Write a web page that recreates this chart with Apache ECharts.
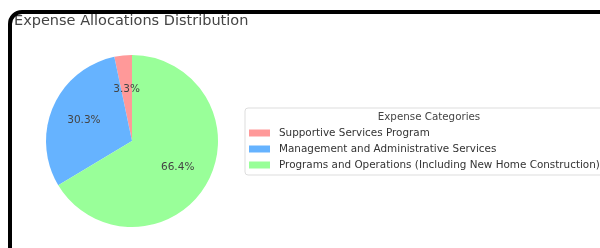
<!DOCTYPE html>
<html>
<head>
<meta charset="utf-8">
<script src="https://cdn.jsdelivr.net/npm/echarts@6/dist/echarts.min.js"></script>
<style>
html,body{margin:0;padding:0;background:#fff;}
#chart{position:absolute;left:0;top:0;width:600px;height:248px;}
#frame{position:absolute;left:8px;top:10px;width:620px;height:260px;border:4px solid #000;border-radius:14px;box-sizing:border-box;pointer-events:none;}
</style>
</head>
<body>
<div id="chart"></div>
<div id="frame"></div>
<script>
const categories = ['Supportive Services Program', 'Management and Administrative Services', 'Programs and Operations (Including New Home Construction)'];
const values = [3.3, 30.3, 66.4];
const colors = ['#ff9999', '#66b3ff', '#99ff99'];

const chart = echarts.init(document.getElementById('chart'), null, {renderer: 'canvas'});
const data = categories.map((c, i) => ({name: c, value: values[i], itemStyle: {color: colors[i]}}));
const labelData = categories.map((c, i) => ({name: c, value: values[i], itemStyle: {color: 'rgba(0,0,0,0)'}}));
const FONT = 'DejaVu Sans';
chart.setOption({
  animation: false,
  title: [
    {text: 'Expense Allocations Distribution', left: 9, top: 9, textStyle: {fontFamily: FONT, fontSize: 14.5, fontWeight: 'normal', color: '#444'}},
    {text: 'Expense Categories', left: 424, top: 107, textAlign: 'center', textStyle: {fontFamily: FONT, fontSize: 10.3, fontWeight: 'normal', color: '#444'}}
  ],
  legend: {
    orient: 'vertical', left: 245, top: 108,
    data: categories,
    padding: [19, 40, 4, 4],
    itemWidth: 21, itemHeight: 7, itemGap: 4,
    borderColor: '#ddd', borderWidth: 1, borderRadius: 3,
    backgroundColor: '#fff',
    icon: 'rect',
    textStyle: {fontFamily: FONT, fontSize: 10.4, color: '#333', padding: [0, 0, 0, 4], lineHeight: 12},
    selectedMode: false
  },
  series: [
    {
      type: 'pie', center: [132, 141], radius: [0, 86],
      startAngle: 90, clockwise: false,
      label: {show: false}, labelLine: {show: false},
      silent: true, emphasis: {disabled: true},
      data: data
    },
    {
      type: 'pie', center: [132, 141], radius: [0, 99],
      startAngle: 90, clockwise: false,
      label: {show: true, position: 'inside', formatter: p => p.value.toFixed(1) + '%', fontFamily: FONT, fontSize: 10.5, color: '#444'},
      labelLine: {show: false},
      silent: true, emphasis: {disabled: true},
      data: labelData
    }
  ]
});
</script>
</body>
</html>
